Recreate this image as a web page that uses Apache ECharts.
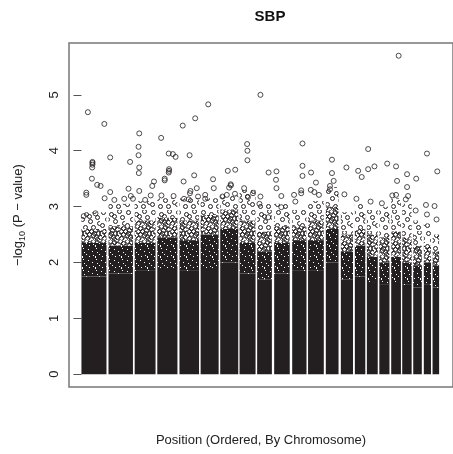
<!DOCTYPE html>
<html><head><meta charset="utf-8">
<script src="https://cdn.jsdelivr.net/npm/echarts@6/dist/echarts.min.js"></script>
<style>html,body{margin:0;padding:0;background:#fff}#c{width:453px;height:454px}</style>
</head><body><div id="c"></div>
<script>
// ---- data (x = ordered SNP index, thousands; y = -log10 P) ----
const chromosomes = [1,2,3,4,5,6,7,8,9,10,11,12,13,14,15,16,17,18,19,20,21,22];
const chrStart = [0,189,372,530,685,833,970,1105,1228,1347,1473,1584,1708,1813,1911,1995,2082,2165,2242,2319,2393,2454];
const chrEnd   = [175,360,518,671,822,959,1096,1217,1331,1456,1573,1694,1797,1898,1984,2071,2153,2233,2308,2379,2443,2500];
// envelope of the dense point cloud per chromosome
const solidTop = [1.75,1.8,1.85,1.9,1.85,1.9,2.0,1.8,1.7,1.8,1.85,1.85,2.0,1.7,1.75,1.65,1.6,1.65,1.6,1.55,1.6,1.55];
const denseTop = [2.35,2.3,2.35,2.45,2.4,2.5,2.6,2.35,2.2,2.35,2.4,2.4,2.6,2.2,2.3,2.1,2.0,2.1,2.0,1.95,2.0,1.95];
const midTop   = [2.6,2.65,2.75,2.8,2.75,2.85,2.95,2.75,2.55,2.65,2.65,2.75,3.0,2.5,2.6,2.5,2.45,2.55,2.45,2.3,2.3,2.2];
const cloudTop = [2.9,3.05,3.1,3.15,3.15,3.15,3.2,3.3,3.05,3.05,2.95,3.1,3.35,2.9,3.05,2.95,3.0,3.15,3.05,2.75,2.7,2.5];
// individual SNPs above the cloud
const peakX = [45,795,886,1251,2217,160,708,404,557,399,399,201,340,610,639,658,756,77,77,77,75,73,404,401,612,612,610,582,582,788,920,714,507,495,110,134,201,34,34,162,329,404,762,758,806,925,865,865,1023,1075,1045,559,644,484,345,360,299,230,445,717,749,815,16,98,
  1158,1160,1160,1545,1545,1545,1751,1751,1763,2004,2004,2048,2137,2199,2206,1934,1959,1852,2415,2487,2276,2340,2276,1605,1639,1603,1628,1043,1032,1308,1363,1360,1363,1397,1486,1536,1536,1737,1737,1660,1838,1922,2021,2100,2173,2199,2267,2283,2336,2408,2468,2482,2415,1251,1244,1199,1137,1164,986,1016,1073,1306,1397,1495];
const peakY = [4.69,4.58,4.83,5.00,5.70,4.48,4.45,4.31,4.23,4.07,3.92,3.88,3.80,3.95,3.94,3.89,3.92,3.80,3.78,3.75,3.70,3.50,3.70,3.60,3.67,3.64,3.61,3.50,3.47,3.56,3.49,3.45,3.45,3.37,3.39,3.37,3.26,3.25,3.21,3.15,3.32,3.28,3.28,3.24,3.33,3.33,3.21,3.14,3.64,3.66,3.38,3.20,3.19,3.20,3.19,3.14,3.14,3.12,3.12,3.14,3.13,3.18,2.83,2.88,
  4.12,4.00,3.83,4.13,3.73,3.55,3.84,3.60,3.46,4.03,3.67,3.72,3.77,3.72,3.46,3.64,3.53,3.70,3.95,3.63,3.58,3.50,3.35,3.61,3.43,3.30,3.26,3.40,3.34,3.61,3.63,3.48,3.33,3.19,3.21,3.29,3.24,3.37,3.31,3.21,3.22,3.14,3.09,3.06,3.20,3.21,3.13,3.19,2.93,3.03,3.01,2.77,2.86,3.18,3.05,3.24,3.33,3.17,3.18,3.21,3.23,2.81,2.99,3.09];
const yTicks = [0,1,2,3,4,5];

// ---- textures (style only) ----
const INK = '#231f20';
function texture(w, h, bg, paint) {
  const c = document.createElement('canvas'); c.width = w; c.height = h;
  const g = c.getContext('2d');
  if (bg) { g.fillStyle = bg; g.fillRect(0, 0, w, h); }
  paint(g);
  return { image: c, repeat: 'repeat' };
}
function rings(g, pts) {
  g.strokeStyle = INK; g.lineWidth = 1;
  pts.forEach(p => { g.beginPath(); g.arc(p[0] + 0.5, p[1] + 0.5, 2, 0, Math.PI * 2); g.stroke(); });
}
const speckTex = texture(13, 11, INK, g => {
  g.fillStyle = '#fff';
  [[2,2],[8,1],[5,6],[10,7],[1,9],[11,3],[6,10]].forEach(p => g.fillRect(p[0], p[1], 1, 1));
  g.fillRect(4, 3, 1, 2);
});
const midTex = texture(17, 15, null, g => {
  rings(g, [[1,1],[4,3],[8,1],[12,2],[15,4],[2,6],[6,6],[10,5],[13,8],[0,10],[4,9],[8,10],[11,12],[15,12],[2,13],[6,14],[14,0],[9,8],[16,8],[12,14]]);
});
const ringTex = texture(25, 21, null, g => {
  rings(g, [[3,2],[11,4],[19,1],[7,9],[15,11],[22,7],[2,15],[10,17],[18,17],[14,6],[24,13]]);
});

function layer(bottoms, tops) {
  return chromosomes.map((c, i) => [chrStart[i], chrEnd[i], bottoms[i], tops[i]]);
}
const zeros = chromosomes.map(() => 0);
function rectSeries(data, fill) {
  return {
    type: 'custom', data: data, encode: { x: [0, 1], y: [2, 3] }, silent: true,
    renderItem: (params, api) => {
      const a = api.coord([api.value(0), api.value(3)]);
      const b = api.coord([api.value(1), api.value(2)]);
      return { type: 'rect', shape: { x: a[0], y: a[1], width: b[0] - a[0], height: b[1] - a[1] }, style: { fill: fill } };
    }
  };
}

const chart = echarts.init(document.getElementById('c'), null, { renderer: 'canvas' });
const FONT = 'Liberation Sans, Arial, Helvetica, sans-serif';
chart.setOption({
  backgroundColor: '#ffffff',
  animation: false,
  title: { text: 'SBP', left: 265, top: 4, textAlign: 'center',
    textStyle: { fontFamily: FONT, fontSize: 15, fontWeight: 'bold', color: '#111' } },
  grid: { left: 69, top: 43, width: 392, height: 344, show: true, borderColor: '#777', borderWidth: 1.5, backgroundColor: 'transparent' },
  xAxis: {
    type: 'value', min: -87, max: 2597,
    axisLine: { show: false }, axisTick: { show: false }, axisLabel: { show: false }, splitLine: { show: false },
    name: 'Position (Ordered, By Chromosome)', nameLocation: 'middle', nameGap: 47,
    nameTextStyle: { fontFamily: FONT, fontSize: 13, color: '#222' }
  },
  yAxis: {
    type: 'value', min: -0.228, max: 5.928,
    axisLine: { show: false }, splitLine: { show: false },
    axisTick: { show: true, length: 8, customValues: yTicks, lineStyle: { color: '#555', width: 1 } },
    axisLabel: { customValues: yTicks, rotate: 90, margin: 8, fontFamily: FONT, fontSize: 13, color: '#222' },
    name: '{a|−log}{s|10}{a| (P − value)}', nameLocation: 'middle', nameGap: 42, nameRotate: 90,
    nameTextStyle: { fontFamily: FONT, fontSize: 13, color: '#222',
      rich: { a: { fontFamily: FONT, fontSize: 13, color: '#222', lineHeight: 18 },
              s: { fontFamily: FONT, fontSize: 9, color: '#222', lineHeight: 18, verticalAlign: 'bottom', padding: [6, 0, 0, 0] } } }
  },
  series: [
    rectSeries(layer(zeros, solidTop), INK),
    rectSeries(layer(solidTop, denseTop), speckTex),
    rectSeries(layer(denseTop, midTop), midTex),
    rectSeries(layer(midTop, cloudTop), ringTex),
    { type: 'scatter', data: peakX.map((x, i) => [x, peakY[i]]), symbol: 'circle', symbolSize: 5,
      itemStyle: { color: 'transparent', borderColor: INK, borderWidth: 1 }, silent: true }
  ]
});
</script></body></html>
